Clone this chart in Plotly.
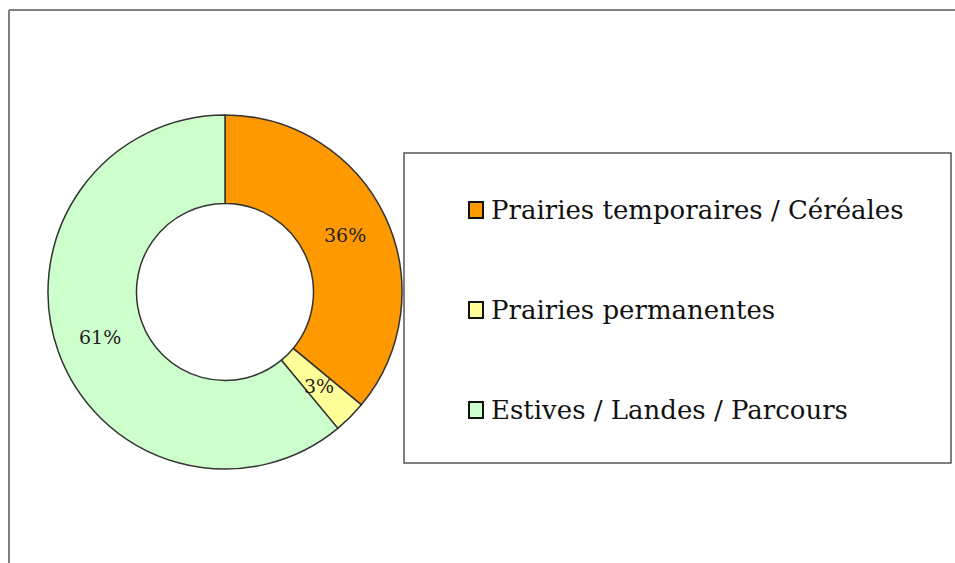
import math
import plotly.graph_objects as go

labels = ["Prairies temporaires / Céréales", "Prairies permanentes", "Estives / Landes / Parcours"]
values = [36, 3, 61]
colors = ["#FF9900", "#FFFF99", "#CCFFCC"]

W, H = 955, 563
SERIF = "DejaVu Serif"

def px(x):
    return x / W

def py(y):
    return 1 - y / H

# donut geometry (pixels)
CX, CY, R, HOLE = 225, 292, 177, 0.5

total = sum(values)
pct = ["%d%%" % round(100 * v / total) for v in values]
# the thin slice gets its label placed at the middle of the ring, like the original
small = [v / total < 0.05 for v in values]

fig = go.Figure()

fig.add_trace(go.Pie(
    labels=labels, values=values, sort=False, direction="clockwise", rotation=0,
    hole=HOLE, marker=dict(colors=colors, line=dict(color="#333333", width=1.5)),
    text=["" if s else p for p, s in zip(pct, small)], textinfo="text",
    textposition="inside", insidetextorientation="horizontal",
    textfont=dict(family=SERIF, size=19, color="#222222"),
    domain=dict(x=[px(CX - R), px(CX + R)], y=[py(CY + R), py(CY - R)]),
    showlegend=False, hoverinfo="label+percent",
))

shapes = [
    # outer chart frame (only left and top edges are in view)
    dict(type="line", xref="paper", yref="paper", x0=px(9), x1=px(9), y0=0, y1=py(10),
         line=dict(color="#808080", width=2)),
    dict(type="line", xref="paper", yref="paper", x0=px(9), x1=1, y0=py(10), y1=py(10),
         line=dict(color="#808080", width=2)),
    # legend box
    dict(type="rect", xref="paper", yref="paper", x0=px(404), x1=px(951), y0=py(463), y1=py(153),
         line=dict(color="#555555", width=1.5), fillcolor="white"),
]
annotations = []

cum = 0
r_mid = R * (1 + HOLE) / 2
for v, p, s in zip(values, pct, small):
    ang = 2 * math.pi * (cum + v / 2) / total
    cum += v
    if s:
        annotations.append(dict(text=p, xref="paper", yref="paper",
                                x=px(CX + r_mid * math.sin(ang)), y=py(CY - r_mid * math.cos(ang)),
                                xanchor="center", yanchor="middle", showarrow=False,
                                font=dict(family=SERIF, size=19, color="#222222")))

for i, (lab, col) in enumerate(zip(labels, colors)):
    yc = 210 + 100 * i
    shapes.append(dict(type="rect", xref="paper", yref="paper",
                       x0=px(469), x1=px(483), y0=py(yc + 8), y1=py(yc - 8),
                       line=dict(color="#111111", width=2), fillcolor=col))
    annotations.append(dict(text=lab, xref="paper", yref="paper", x=px(489), y=py(yc),
                            xanchor="left", yanchor="middle", showarrow=False,
                            font=dict(family=SERIF, size=26, color="#111111")))

fig.update_layout(
    width=W, height=H, margin=dict(l=0, r=0, t=0, b=0),
    paper_bgcolor="white", plot_bgcolor="white",
    uniformtext=dict(minsize=19, mode="show"),
    shapes=shapes, annotations=annotations,
)

# drop the default 8px page margin so the figure fills the window exactly
fig.write_html("out.html", config={"displayModeBar": False},
               post_script="document.body.style.margin='0';")
